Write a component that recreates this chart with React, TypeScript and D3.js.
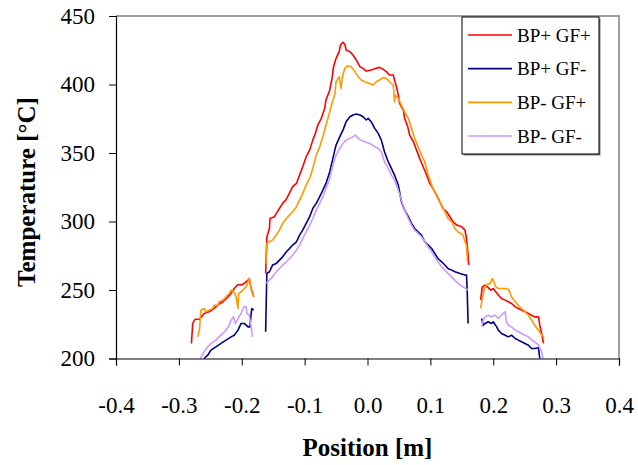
import React, { useEffect, useRef } from 'react';
import * as d3 from 'd3';

type Pt = [number, number];

const seriesNames = ['BP+ GF+', 'BP+ GF-', 'BP- GF+', 'BP- GF-'];
const seriesColors = ['#ff0000', '#000080', '#ff9900', '#cc99ff'];
const xTicks = [-0.4, -0.3, -0.2, -0.1, 0, 0.1, 0.2, 0.3, 0.4];
const yTicks = [200, 250, 300, 350, 400, 450];

// BP+ GF+  [position m, temperature °C]
const ppLeft: Pt[] = [
  [-0.28, 211.0], [-0.278, 225.6], [-0.274, 228.7], [-0.267, 228.7], [-0.262, 231.6], [-0.26, 232.9],
  [-0.252, 234.1], [-0.244, 236.5], [-0.237, 239.4], [-0.23, 241.4], [-0.222, 245.0], [-0.217, 247.5],
  [-0.212, 251.1], [-0.206, 254.0], [-0.201, 253.6], [-0.196, 254.8], [-0.19, 257.2], [-0.188, 258.4],
  [-0.185, 251.1], [-0.181, 245.0],
];
const ppCenter: Pt[] = [
  [-0.162, 262.1], [-0.16, 288.9], [-0.156, 294.9], [-0.155, 302.2], [-0.148, 303.5], [-0.145, 305.9],
  [-0.14, 309.5], [-0.135, 313.2], [-0.13, 315.6], [-0.127, 318.1], [-0.119, 325.4], [-0.113, 327.8],
  [-0.108, 333.9], [-0.103, 340.0], [-0.0975, 347.3], [-0.092, 352.1], [-0.087, 359.4], [-0.083, 364.3],
  [-0.079, 370.4], [-0.0735, 375.3], [-0.068, 382.6], [-0.066, 388.7], [-0.06, 396.0], [-0.056, 405.7],
  [-0.054, 413.0], [-0.05, 419.1], [-0.045, 424.0], [-0.043, 428.8], [-0.039, 430.8], [-0.036, 429.3],
  [-0.034, 425.2], [-0.028, 424.0], [-0.023, 421.5], [-0.018, 417.9], [-0.012, 413.0], [-0.007, 411.8],
  [-0.002, 409.8], [0.006, 410.6], [0.014, 411.8], [0.019, 412.5], [0.025, 411.1], [0.03, 409.4],
  [0.035, 406.9], [0.041, 406.9], [0.043, 403.3], [0.046, 398.4], [0.049, 392.3], [0.051, 386.2],
  [0.057, 381.4], [0.059, 375.3], [0.064, 369.2], [0.067, 363.1], [0.073, 358.2], [0.078, 352.1],
  [0.083, 346.1], [0.0885, 340.0], [0.094, 333.9], [0.099, 327.8], [0.104, 324.2], [0.11, 319.3],
  [0.115, 314.4], [0.12, 309.5], [0.126, 307.1], [0.131, 303.5], [0.136, 299.8], [0.142, 297.4],
  [0.15, 296.2], [0.155, 293.7], [0.1575, 287.6], [0.16, 275.5], [0.161, 268.2],
];
const ppRight: Pt[] = [
  [0.18, 242.6], [0.1825, 252.3], [0.187, 253.6], [0.191, 252.3], [0.196, 249.9], [0.2, 251.1],
  [0.204, 248.7], [0.208, 246.3], [0.213, 243.8], [0.219, 242.6], [0.224, 241.4], [0.229, 240.2],
  [0.235, 237.7], [0.24, 236.5], [0.245, 235.3], [0.2505, 234.1], [0.256, 232.9], [0.261, 231.6],
  [0.266, 230.4], [0.272, 230.4], [0.274, 224.3], [0.277, 218.3], [0.28, 211.0],
];

// BP+ GF-
const pmLeft: Pt[] = [
  [-0.26, 200.0], [-0.254, 202.4], [-0.249, 206.1], [-0.241, 208.5], [-0.233, 211.0], [-0.225, 213.4],
  [-0.217, 215.8], [-0.212, 217.0], [-0.206, 220.7], [-0.201, 225.6], [-0.196, 225.6], [-0.19, 223.1],
  [-0.187, 223.1], [-0.185, 232.9], [-0.184, 236.5], [-0.181, 235.3],
];
const pmCenter: Pt[] = [
  [-0.162, 219.5], [-0.1605, 253.6], [-0.16, 262.1], [-0.156, 263.3], [-0.151, 268.2], [-0.145, 269.4],
  [-0.14, 271.8], [-0.135, 274.2], [-0.129, 277.9], [-0.124, 280.3], [-0.119, 282.8], [-0.113, 285.2],
  [-0.108, 290.1], [-0.103, 293.7], [-0.0975, 298.6], [-0.092, 303.5], [-0.087, 309.5], [-0.0815, 313.2],
  [-0.076, 318.1], [-0.071, 322.9], [-0.066, 327.8], [-0.06, 336.3], [-0.055, 346.1], [-0.052, 352.1],
  [-0.05, 355.8], [-0.044, 361.9], [-0.039, 366.7], [-0.034, 372.8], [-0.028, 376.5], [-0.023, 377.7],
  [-0.018, 378.4], [-0.012, 377.7], [-0.007, 376.5], [-0.002, 374.1], [0.001, 375.3], [0.006, 372.8],
  [0.0115, 368.0], [0.017, 364.3], [0.022, 359.4], [0.027, 350.9], [0.033, 343.6], [0.038, 338.8],
  [0.043, 333.9], [0.049, 326.6], [0.054, 314.4], [0.059, 308.3], [0.065, 303.5], [0.07, 298.6],
  [0.075, 294.9], [0.0805, 292.5], [0.086, 290.1], [0.091, 285.2], [0.0965, 282.8], [0.102, 280.3],
  [0.107, 276.7], [0.112, 273.0], [0.118, 270.6], [0.123, 268.2], [0.128, 265.7], [0.134, 264.5],
  [0.139, 263.3], [0.147, 262.1], [0.155, 260.9], [0.1575, 260.9], [0.1586, 248.7], [0.16, 225.6],
];
const pmRight: Pt[] = [
  [0.1815, 229.2], [0.184, 224.3], [0.187, 225.6], [0.192, 226.8], [0.197, 225.6], [0.2, 226.8],
  [0.2054, 223.1], [0.208, 220.7], [0.213, 218.3], [0.219, 217.0], [0.224, 215.8], [0.229, 217.0],
  [0.235, 214.6], [0.24, 213.4], [0.245, 212.2], [0.2505, 211.0], [0.256, 209.7], [0.261, 207.3],
  [0.266, 207.3], [0.272, 207.8], [0.273, 203.7], [0.274, 200.0],
];

// BP- GF+
const mpLeft: Pt[] = [
  [-0.27, 215.8], [-0.267, 221.9], [-0.265, 235.3], [-0.26, 236.5], [-0.257, 234.1], [-0.252, 235.3],
  [-0.246, 236.5], [-0.244, 238.9], [-0.238, 238.9], [-0.236, 241.4], [-0.23, 242.6], [-0.225, 245.0],
  [-0.22, 247.5], [-0.217, 249.9], [-0.212, 248.7], [-0.209, 245.0], [-0.206, 236.5], [-0.205, 247.5],
  [-0.201, 248.7], [-0.196, 251.1], [-0.193, 252.3], [-0.19, 256.0], [-0.188, 258.4], [-0.186, 253.6],
  [-0.184, 248.7], [-0.181, 245.0],
];
const mpCenter: Pt[] = [
  [-0.161, 269.4], [-0.16, 284.0], [-0.156, 285.2], [-0.151, 286.4], [-0.145, 290.1], [-0.14, 293.7],
  [-0.135, 298.6], [-0.129, 302.2], [-0.124, 304.7], [-0.119, 307.1], [-0.113, 310.8], [-0.108, 315.6],
  [-0.103, 320.5], [-0.0975, 326.6], [-0.092, 331.5], [-0.087, 338.8], [-0.0815, 348.5], [-0.076, 354.6],
  [-0.071, 361.9], [-0.066, 370.4], [-0.06, 380.1], [-0.055, 388.7], [-0.052, 392.3], [-0.05, 402.0],
  [-0.045, 405.7], [-0.043, 399.6], [-0.042, 397.2], [-0.04, 405.7], [-0.036, 411.8], [-0.031, 413.7],
  [-0.026, 413.0], [-0.02, 409.4], [-0.015, 405.7], [-0.01, 403.3], [-0.0045, 402.0], [0.0035, 400.8],
  [0.009, 399.6], [0.014, 402.0], [0.019, 403.3], [0.025, 405.0], [0.03, 404.5], [0.035, 402.0],
  [0.041, 399.6], [0.043, 387.4], [0.044, 392.3], [0.049, 389.9], [0.054, 385.0], [0.059, 380.1],
  [0.065, 375.3], [0.07, 368.0], [0.075, 360.7], [0.0805, 354.6], [0.086, 348.5], [0.091, 343.6],
  [0.0965, 333.9], [0.102, 326.6], [0.107, 321.7], [0.112, 316.8], [0.118, 312.0], [0.123, 307.1],
  [0.128, 302.2], [0.134, 299.8], [0.139, 294.9], [0.144, 292.5], [0.152, 290.1], [0.155, 285.2],
  [0.1575, 282.8], [0.159, 270.6],
];
const mpRight: Pt[] = [
  [0.18, 236.5], [0.1825, 243.8], [0.186, 251.1], [0.189, 253.6], [0.195, 254.8], [0.1985, 258.4],
  [0.201, 256.0], [0.204, 252.3], [0.208, 251.1], [0.213, 251.1], [0.219, 251.1], [0.224, 250.6],
  [0.227, 247.5], [0.229, 245.0], [0.235, 241.4], [0.24, 238.9], [0.245, 236.5], [0.2505, 234.1],
  [0.256, 231.6], [0.261, 228.0], [0.266, 224.3], [0.272, 220.7], [0.277, 217.0], [0.281, 215.8],
];

// BP- GF-
const mmLeft: Pt[] = [
  [-0.266, 200.0], [-0.26, 204.9], [-0.254, 208.5], [-0.249, 211.0], [-0.241, 213.4], [-0.236, 215.8],
  [-0.23, 218.3], [-0.225, 220.7], [-0.22, 224.3], [-0.217, 228.0], [-0.213, 230.4], [-0.21, 225.6],
  [-0.206, 229.2], [-0.201, 232.9], [-0.198, 236.5], [-0.196, 237.7], [-0.193, 237.7], [-0.192, 232.9],
  [-0.188, 231.6], [-0.185, 223.1], [-0.183, 215.8],
];
const mmCenter: Pt[] = [
  [-0.161, 254.8], [-0.156, 257.2], [-0.151, 259.6], [-0.145, 263.3], [-0.14, 265.7], [-0.135, 268.2],
  [-0.129, 270.6], [-0.124, 273.0], [-0.119, 275.5], [-0.113, 279.1], [-0.108, 282.8], [-0.103, 287.6],
  [-0.0975, 292.5], [-0.092, 297.4], [-0.087, 302.2], [-0.0815, 308.3], [-0.076, 313.2], [-0.071, 318.1],
  [-0.066, 324.2], [-0.06, 331.5], [-0.055, 341.2], [-0.05, 348.5], [-0.044, 353.4], [-0.039, 357.0],
  [-0.034, 359.4], [-0.028, 360.7], [-0.023, 361.9], [-0.019, 363.1], [-0.015, 360.7], [-0.01, 359.4],
  [-0.0045, 358.2], [0.0035, 357.0], [0.0115, 354.6], [0.017, 353.4], [0.022, 350.9], [0.027, 343.6],
  [0.033, 338.8], [0.038, 333.9], [0.043, 330.2], [0.049, 322.9], [0.054, 315.6], [0.059, 308.3],
  [0.065, 302.2], [0.07, 297.4], [0.075, 293.7], [0.0805, 291.3], [0.086, 288.9], [0.091, 285.2],
  [0.0965, 281.5], [0.102, 277.9], [0.107, 274.2], [0.112, 270.6], [0.118, 266.9], [0.123, 264.5],
  [0.128, 262.1], [0.134, 259.6], [0.139, 257.2], [0.144, 254.8], [0.152, 252.3], [0.16, 249.9],
];
const mmRight: Pt[] = [
  [0.1815, 223.1], [0.184, 228.0], [0.187, 230.4], [0.192, 231.6], [0.197, 230.4], [0.203, 231.6],
  [0.208, 229.2], [0.213, 231.6], [0.216, 232.9], [0.219, 234.1], [0.221, 226.8], [0.224, 224.3],
  [0.229, 223.1], [0.235, 220.7], [0.24, 219.5], [0.245, 218.3], [0.2505, 217.0], [0.256, 215.8],
  [0.261, 213.4], [0.266, 212.2], [0.272, 209.7], [0.277, 204.9], [0.279, 200.0],
];

const seriesSegments: Pt[][][] = [
  [ppLeft, ppCenter, ppRight],
  [pmLeft, pmCenter, pmRight],
  [mpLeft, mpCenter, mpRight],
  [mmLeft, mmCenter, mmRight],
];

const W = 638;
const H = 465;
const FONT = '"Liberation Serif", "Times New Roman", serif';

export default function App() {
  const ref = useRef<SVGSVGElement>(null);

  useEffect(() => {
    const svg = d3.select(ref.current);
    svg.selectAll('*').remove();

    const left = 116;
    const right = 619;
    const top = 16;
    const bottom = 358.5;

    const x = d3.scaleLinear().domain([-0.4, 0.4]).range([left, right]);
    const y = d3.scaleLinear().domain([200, 450]).range([bottom, top]);

    svg.append('rect').attr('width', W).attr('height', H).attr('fill', '#fff');

    // plot frame: grey top/right
    svg
      .append('path')
      .attr('d', `M${left},${top}H${right}V${bottom}`)
      .attr('fill', 'none')
      .attr('stroke', '#808080')
      .attr('stroke-width', 1.5);

    const line = d3
      .line<Pt>()
      .x((d) => x(d[0]))
      .y((d) => y(d[1]));

    seriesSegments.forEach((segs, i) => {
      svg
        .append('g')
        .selectAll('path')
        .data(segs)
        .enter()
        .append('path')
        .attr('d', (d) => line(d))
        .attr('fill', 'none')
        .attr('stroke', seriesColors[i])
        .attr('stroke-width', 1.6)
        .attr('stroke-linejoin', 'round');
    });

    const fmt = (v: number) => d3.format('.1f')(v).replace('\u2212', '-');

    const xAxis = svg
      .append('g')
      .attr('transform', `translate(0,${bottom})`)
      .call(d3.axisBottom(x).tickValues(xTicks).tickSize(7).tickPadding(31).tickFormat((d) => fmt(d as number)));
    xAxis.select('.domain').attr('stroke', '#000').attr('stroke-width', 1.2);
    xAxis.selectAll('.tick line').attr('stroke', '#000');
    xAxis
      .selectAll('.tick text')
      .attr('font-family', FONT)
      .attr('font-size', 23)
      .attr('fill', '#000');

    const yAxis = svg
      .append('g')
      .attr('transform', `translate(${left},0)`)
      .call(d3.axisLeft(y).tickValues(yTicks).tickSize(7).tickPadding(14).tickFormat(d3.format('d')));
    yAxis.select('.domain').attr('stroke', '#000').attr('stroke-width', 1.2);
    yAxis.selectAll('.tick line').attr('stroke', '#000');
    yAxis
      .selectAll('.tick text')
      .attr('font-family', FONT)
      .attr('font-size', 23)
      .attr('fill', '#000');

    // axis titles
    svg
      .append('text')
      .attr('x', (left + right) / 2)
      .attr('y', 456)
      .attr('text-anchor', 'middle')
      .attr('font-family', FONT)
      .attr('font-size', 25)
      .attr('font-weight', 'bold')
      .text('Position [m]');

    svg
      .append('text')
      .attr('transform', `translate(35,192) rotate(-90)`)
      .attr('text-anchor', 'middle')
      .attr('font-family', FONT)
      .attr('font-size', 25)
      .attr('font-weight', 'bold')
      .text('Temperature [°C]');

    // legend
    const lx = 462;
    const ly = 17;
    const lw = 137;
    const lh = 137;
    svg
      .append('rect')
      .attr('x', lx + 1.5)
      .attr('y', ly + 1.5)
      .attr('width', lw)
      .attr('height', lh)
      .attr('fill', '#808080');
    svg
      .append('rect')
      .attr('x', lx)
      .attr('y', ly)
      .attr('width', lw)
      .attr('height', lh)
      .attr('fill', '#fff')
      .attr('stroke', '#000')
      .attr('stroke-width', 1);

    const rowY = d3.scalePoint<string>().domain(seriesNames).range([ly + 18, ly + 119]);
    const leg = svg
      .append('g')
      .selectAll('g')
      .data(seriesNames)
      .enter()
      .append('g')
      .attr('transform', (d) => `translate(0,${rowY(d)})`);
    leg
      .append('line')
      .attr('x1', lx + 6)
      .attr('x2', lx + 50)
      .attr('stroke', (d, i) => seriesColors[i])
      .attr('stroke-width', 1.6);
    leg
      .append('text')
      .attr('x', lx + 55)
      .attr('y', 6.5)
      .attr('font-family', FONT)
      .attr('font-size', 19)
      .attr('fill', '#000')
      .text((d) => d);
  }, []);

  return (
    <svg
      ref={ref}
      width={W}
      height={H}
      style={{ position: 'absolute', left: 0, top: 0, display: 'block' }}
    />
  );
}
